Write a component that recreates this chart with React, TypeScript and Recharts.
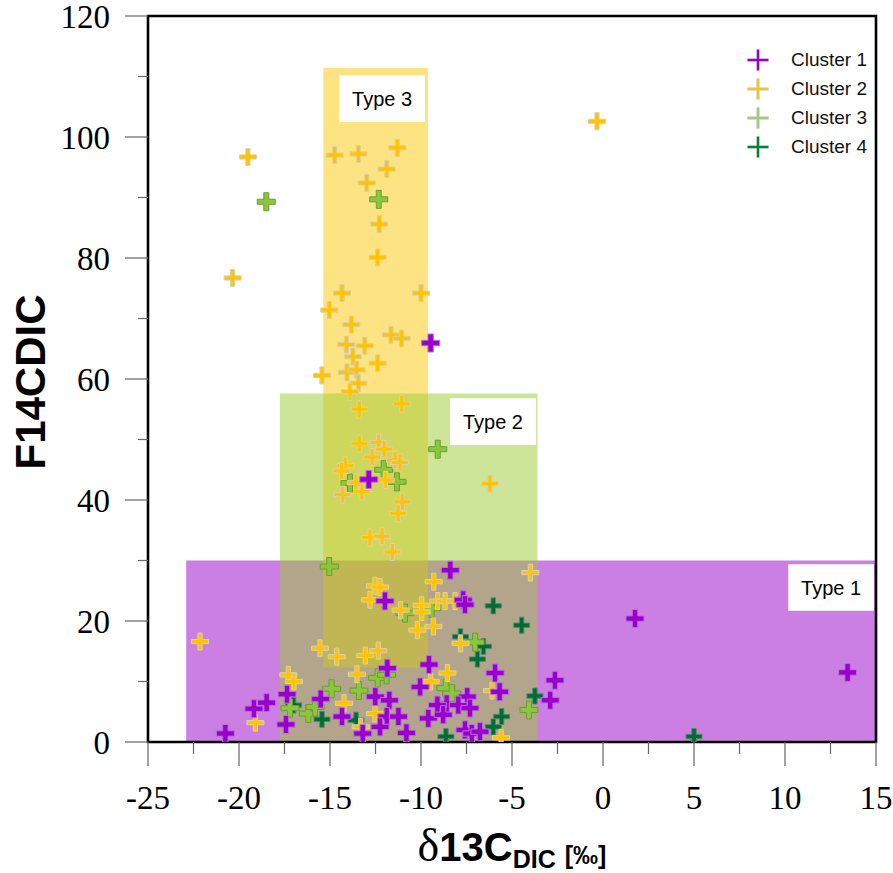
import React from 'react';
import { ScatterChart, Scatter, XAxis, YAxis, ReferenceArea } from 'recharts';

// ---------------- data ----------------
const cluster1: [number, number][] = [
  [-9.47, 65.95], [-12.87, 43.4], [-8.39, 28.4], [-11.98, 23.3], [-7.68, 23.5], [-7.58, 22.7],
  [-11.85, 12.2], [-9.56, 12.8], [-5.93, 11.4], [-10.05, 9.1], [-5.68, 8.3], [-2.64, 10.2],
  [-2.9, 6.9], [-17.36, 7.9], [-18.48, 6.5], [-19.18, 5.5], [-20.75, 1.4], [-17.42, 2.9],
  [-15.51, 7.1], [-14.34, 4.2], [-12.51, 7.5], [-11.74, 6.9], [-11.88, 4.2], [-11.24, 4.2],
  [-12.25, 2.5], [-13.2, 1.4], [-10.8, 1.5], [-9.6, 3.9], [-7.46, 7.5], [-8.59, 6.3],
  [-9.1, 6.1], [-7.95, 6.1], [-7.31, 5.6], [-8.78, 4.5], [-7.58, 2.0], [-7.21, 1.4],
  [-6.76, 1.7], [1.76, 20.4], [13.44, 11.5],
];
const cluster2: [number, number][] = [
  [-0.33, 102.6], [-19.51, 96.7], [-20.35, 76.7], [-14.74, 97.0], [-13.44, 97.2], [-11.3, 98.2],
  [-11.88, 94.7], [-12.98, 92.4], [-12.29, 85.6], [-12.38, 80.1], [-14.34, 74.2], [-10.0, 74.2],
  [-15.04, 71.4], [-13.83, 69.0], [-11.65, 67.3], [-11.06, 66.7], [-14.1, 65.7], [-13.09, 65.5],
  [-13.74, 63.7], [-12.38, 62.6], [-15.44, 60.6], [-14.07, 61.1], [-13.53, 61.5], [-13.44, 59.3],
  [-13.9, 57.9], [-13.39, 55.0], [-11.06, 55.9], [-13.39, 49.3], [-12.33, 49.5], [-12.02, 48.4],
  [-12.68, 47.1], [-11.43, 46.6], [-11.15, 46.2], [-14.16, 45.7], [-14.36, 44.8], [-11.94, 43.3],
  [-13.57, 42.9], [-13.24, 41.4], [-14.3, 40.9], [-6.21, 42.7], [-11.03, 39.7], [-11.25, 37.8],
  [-12.8, 33.8], [-12.14, 34.0], [-11.57, 31.4], [-3.99, 28.0], [-9.3, 26.5], [-12.53, 25.8],
  [-12.25, 25.6], [-12.8, 23.5], [-9.08, 23.3], [-8.68, 23.3], [-8.13, 23.3], [-9.96, 22.6],
  [-9.96, 21.5], [-11.12, 21.8], [-9.32, 19.1], [-10.2, 18.5], [-22.14, 16.6], [-15.55, 15.5],
  [-14.63, 14.1], [-13.06, 14.3], [-12.35, 15.1], [-7.83, 16.3], [-8.55, 11.4], [-17.29, 11.1],
  [-16.98, 10.0], [-13.52, 11.2], [-9.47, 10.0], [-6.1, 8.5], [-19.1, 3.2], [-14.23, 6.4],
  [-12.53, 4.7], [-13.31, 2.5], [-5.6, 0.7],
];
const cluster3: [number, number][] = [
  [-18.5, 89.3], [-12.32, 89.7], [-9.08, 48.4], [-12.05, 45.0], [-11.32, 43.0], [-13.9, 42.8],
  [-15.04, 29.0], [-9.42, 22.1], [-10.88, 21.3], [-7.03, 16.5], [-12.38, 10.6], [-11.89, 11.1],
  [-8.64, 8.9], [-8.31, 8.0], [-4.07, 5.3], [-14.91, 8.8], [-13.41, 8.5], [-17.2, 5.6],
  [-16.19, 4.7], [-15.82, 5.8],
];
const cluster4: [number, number][] = [
  [-6.03, 22.5], [-4.47, 19.3], [-7.83, 17.4], [-6.57, 15.8], [-6.9, 13.7], [-3.74, 7.6],
  [-17.0, 6.1], [-15.44, 3.75], [-13.57, 3.6], [-8.63, 0.9], [-5.57, 4.2], [-6.03, 2.5],
  [5.0, 0.9],
];

const clusterNames = ['Cluster 1', 'Cluster 2', 'Cluster 3', 'Cluster 4'];

// regions (Type 1, Type 2, Type 3)
const regionNames = ['Type 1', 'Type 2', 'Type 3'];
const regionX1 = [-22.9, -17.75, -15.37];
const regionX2 = [15, -3.6, -9.62];
const regionY1 = [0, 0, 12.3];
const regionY2 = [30, 57.6, 111.4];

// label boxes for the regions
const boxX1 = [10.18, -8.41, -14.49];
const boxX2 = [14.89, -3.68, -9.78];
const boxY1 = [21.7, 49.1, 102.5];
const boxY2 = [29.4, 56.8, 110.2];

const xDomain = [-25, 15];
const yDomain = [0, 120];
const xTicks = [-25, -22.5, -20, -17.5, -15, -12.5, -10, -7.5, -5, -2.5, 0, 2.5, 5, 7.5, 10, 12.5, 15];
const yTicks = [0, 10, 20, 30, 40, 50, 60, 70, 80, 90, 100, 110, 120];

// ---------------- styles ----------------
const ARIAL = "Arial, 'Liberation Sans', sans-serif";
const TIMES = "'Times New Roman', 'Liberation Serif', serif";

const markerStyles = [
  { fill: '#9900CC', stroke: '#B772DA', h: 9, t: 2.7 },
  { fill: '#FFC400', stroke: '#D9D0B2', h: 8.5, t: 2.1 },
  { fill: '#8CC63F', stroke: '#6C9C30', h: 9, t: 2.5 },
  { fill: '#006B35', stroke: '#4E8C68', h: 8, t: 2.2 },
];
const legendColors = ['#9900CC', '#F2C230', '#A9C97A', '#00843D'];
const regionFill = ['#CB7FE3', '#9BCB33', '#FDC705'];
const regionOpacity = [1, 0.5, 0.5];

const toPoints = (arr: [number, number][]) => arr.map(([x, y]) => ({ x, y }));

function plusPath(cx: number, cy: number, h: number, t: number) {
  return `M${cx - t},${cy - h}L${cx + t},${cy - h}L${cx + t},${cy - t}L${cx + h},${cy - t}L${cx + h},${cy + t}L${cx + t},${cy + t}L${cx + t},${cy + h}L${cx - t},${cy + h}L${cx - t},${cy + t}L${cx - h},${cy + t}L${cx - h},${cy - t}L${cx - t},${cy - t}Z`;
}

const makeShape = (i: number) => (props: any) => {
  const { cx, cy } = props;
  if (cx == null || cy == null) return <g />;
  const s = markerStyles[i];
  return <path d={plusPath(cx, cy, s.h, s.t)} fill={s.fill} stroke={s.stroke} strokeWidth={1} />;
};

const XTick = (props: any) => {
  const { x, y, payload } = props;
  const v = payload.value;
  const major = Math.abs(v % 5) < 1e-9;
  return (
    <g>
      <line x1={x} y1={y} x2={x} y2={y + (major ? 24 : 12)} stroke="#666" strokeWidth={1.2} />
      {major && (
        <text x={x} y={y + 56} textAnchor="middle" dominantBaseline="central" fontFamily={TIMES} fontSize={33} fill="#000">
          {String(v)}
        </text>
      )}
    </g>
  );
};

const YTick = (props: any) => {
  const { x, y, payload } = props;
  const v = payload.value;
  const major = Math.abs(v % 20) < 1e-9;
  return (
    <g>
      <line x1={x - (major ? 23 : 10)} y1={y} x2={x} y2={y} stroke="#666" strokeWidth={1.2} />
      {major && (
        <text x={x - 38} y={y + 1} textAnchor="end" dominantBaseline="central" fontFamily={TIMES} fontSize={33} fill="#000">
          {String(v)}
        </text>
      )}
    </g>
  );
};

const XTitle = () => (
  <text x={512} y={861} textAnchor="middle" fill="#000">
    <tspan fontFamily={TIMES} fontSize={46}>δ</tspan>
    <tspan fontFamily={ARIAL} fontWeight="bold" fontSize={40}>13C</tspan>
    <tspan fontFamily={ARIAL} fontWeight="bold" fontSize={25} dy={7}>DIC</tspan>
    <tspan fontFamily={ARIAL} fontWeight="bold" fontSize={25} dx={9} dy={-4}>[‰]</tspan>
  </text>
);

const YTitle = () => (
  <text
    x={30}
    y={382}
    transform="rotate(-90 30 382)"
    textAnchor="middle"
    dominantBaseline="central"
    fontFamily={ARIAL}
    fontWeight="bold"
    fontSize={42}
    fill="#000"
  >
    F14CDIC
  </text>
);

const clusters = [cluster1, cluster2, cluster3, cluster4];
const drawOrder = [3, 2, 1, 0];
const regionOrder = [0, 2, 1];

export default function App() {
  return (
    <div style={{ position: 'absolute', left: 0, top: 0, width: 893, height: 873, overflow: 'visible' }}>
      <ScatterChart width={893} height={873} margin={{ top: 16, right: 17, bottom: 0, left: 0 }}>
        <XAxis
          type="number"
          dataKey="x"
          domain={xDomain}
          ticks={xTicks}
          interval={0}
          allowDataOverflow
          height={131}
          tickSize={0}
          tickMargin={0}
          tickLine={false}
          axisLine={false}
          tick={<XTick />}
          label={<XTitle />}
        />
        <YAxis
          type="number"
          dataKey="y"
          domain={yDomain}
          ticks={yTicks}
          interval={0}
          allowDataOverflow
          width={148}
          tickSize={0}
          tickMargin={0}
          tickLine={false}
          axisLine={false}
          tick={<YTick />}
          label={<YTitle />}
        />
        {regionOrder.map((i) => (
          <ReferenceArea
            key={'r' + i}
            x1={regionX1[i]}
            x2={regionX2[i]}
            y1={regionY1[i]}
            y2={regionY2[i]}
            fill={regionFill[i]}
            fillOpacity={regionOpacity[i]}
            stroke="none"
            ifOverflow="extendDomain"
          />
        ))}
        {regionNames.map((name, i) => (
          <ReferenceArea
            key={'b' + i}
            x1={boxX1[i]}
            x2={boxX2[i]}
            y1={boxY1[i]}
            y2={boxY2[i]}
            fill="#FFFFFF"
            fillOpacity={1}
            stroke="none"
            label={{ value: name, position: 'center', fill: '#000', fontSize: 20, fontFamily: ARIAL }}
          />
        ))}
        {drawOrder.map((i) => (
          <Scatter
            key={'s' + i}
            name={clusterNames[i]}
            data={toPoints(clusters[i])}
            shape={makeShape(i)}
            isAnimationActive={false}
          />
        ))}
        <ReferenceArea
          x1={xDomain[0]}
          x2={xDomain[1]}
          y1={yDomain[0]}
          y2={yDomain[1]}
          fill="none"
          stroke="#000"
          strokeWidth={2.6}
        />
      </ScatterChart>
      <div style={{ position: 'absolute', left: 747, top: 45, fontFamily: ARIAL, fontSize: 19, color: '#111' }}>
        {clusterNames.map((n, i) => (
          <div key={n} style={{ display: 'flex', alignItems: 'center', height: 29 }}>
            <svg width={22} height={22} style={{ display: 'block' }}>
              <line x1={11} y1={0.5} x2={11} y2={21.5} stroke="#E4E4E4" strokeWidth={4} />
              <line x1={0.5} y1={11} x2={21.5} y2={11} stroke="#E4E4E4" strokeWidth={4} />
              <line x1={11} y1={0.5} x2={11} y2={21.5} stroke={legendColors[i]} strokeWidth={2.4} />
              <line x1={0.5} y1={11} x2={21.5} y2={11} stroke={legendColors[i]} strokeWidth={2.4} />
            </svg>
            <span style={{ marginLeft: 22, whiteSpace: 'nowrap' }}>{n}</span>
          </div>
        ))}
      </div>
    </div>
  );
}
